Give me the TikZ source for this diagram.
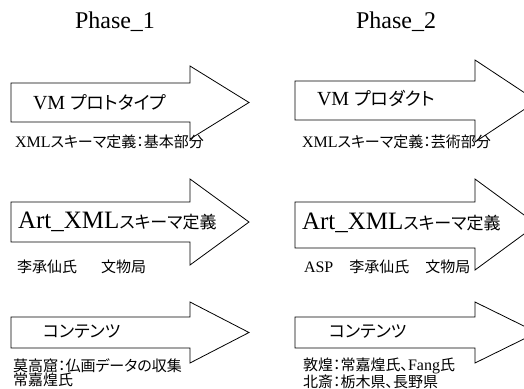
\documentclass[tikz,border=0pt]{standalone}
\usepackage{fontspec}
\setmainfont{Liberation Serif}
\newfontfamily\jp[RawFeature=+palt]{Noto Sans CJK JP}
\tikzset{
  bigarrow/.style={draw=black, line width=0.8pt, line join=miter},
  lbl/.style={anchor=west, inner sep=0pt, outer sep=0pt},
  phasetitle/.style={inner sep=0pt, font=\fontsize{24}{28}\selectfont},
  note/.style={lbl, font=\fontsize{16}{14}\selectfont},
}
\newcommand\jpn[1]{{\jp\fontsize{15}{16}\selectfont #1}}
\begin{document}
\begin{tikzpicture}[x=1pt,y=-1pt]
\useasboundingbox (0,0) rectangle (524,388);
\node[phasetitle] (p1) at (115,22) {Phase\_1};
\node[phasetitle] (p2) at (396,22) {Phase\_2};
% arrows
\draw[bigarrow] (11,83) -- (190,83) -- (190,66) -- (249,102.5) -- (190,139) -- (190,122) -- (11,122) -- cycle;
\draw[bigarrow] (295,81) -- (475,81) -- (475,60) -- (537,101) -- (475,142) -- (475,120) -- (295,120) -- cycle;
\draw[bigarrow] (11,202) -- (190,202) -- (190,179) -- (249,222) -- (190,265) -- (190,242) -- (11,242) -- cycle;
\draw[bigarrow] (295,202) -- (475,202) -- (475,179) -- (537,224.5) -- (475,270) -- (475,248) -- (295,248) -- cycle;
\draw[bigarrow] (11,317) -- (190,317) -- (190,302) -- (249,332.5) -- (190,363) -- (190,348) -- (11,348) -- cycle;
\draw[bigarrow] (295,317) -- (475,317) -- (475,302) -- (537,332.5) -- (475,363) -- (475,348) -- (295,348) -- cycle;
% arrow texts
\node[lbl, font=\fontsize{20}{22}\selectfont] (t1l) at (33,102) {VM {\jp\fontsize{18}{20}\selectfont プロトタイプ}};
\node[lbl, font=\fontsize{20}{22}\selectfont] (t1r) at (317,98) {VM {\jp\fontsize{18}{20}\selectfont プロダクト}};
\node[lbl, font=\fontsize{25}{27}\selectfont] (t2l) at (18,222) {Art\_XML{\jp\fontsize{17}{19}\selectfont スキーマ定義}};
\node[lbl, font=\fontsize{25}{27}\selectfont] (t2r) at (302,223) {Art\_XML{\jp\fontsize{17}{19}\selectfont スキーマ定義}};
\node[lbl, font=\jp\fontsize{17}{19}\selectfont] (t3l) at (43,332) {コンテンツ};
\node[lbl, font=\jp\fontsize{17}{19}\selectfont] (t3r) at (329,332) {コンテンツ};
% notes
\node[note] (n1l) at (15,142) {XML\jpn{スキーマ定義：基本部分}};
\node[note] (n1r) at (302,142) {XML\jpn{スキーマ定義：芸術部分}};
\node[note] (n2l) at (17,267) {\jpn{李承仙氏}\hspace{24pt}\jpn{文物局}};
\node[note] (n2r) at (304,267) {ASP\hspace{16pt}\jpn{李承仙氏}\hspace{16pt}\jpn{文物局}};
\node[note, align=left, font=\jp\fontsize{15}{14}\selectfont] (n3l) at (13,373) {莫高窟：仏画データの収集\\常嘉煌氏};
\node[note, align=left, font=\fontsize{16}{14}\selectfont] (n3r) at (303,373.5) {\jpn{敦煌：常嘉煌氏、}Fang\jpn{氏}\\\jpn{北斎：栃木県、長野県}};
\end{tikzpicture}
\end{document}
